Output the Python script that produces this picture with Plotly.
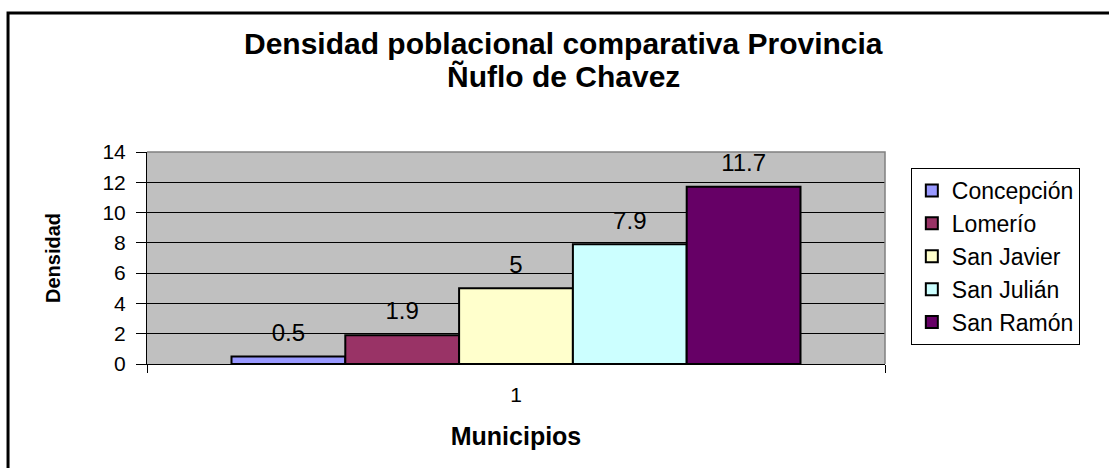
import plotly.graph_objects as go

# Population density by municipality, Ñuflo de Chavez province
municipios = ["Concepción", "Lomerío", "San Javier", "San Julián", "San Ramón"]
densidad = [0.5, 1.9, 5, 7.9, 11.7]
colores = ["#9999FF", "#993366", "#FFFFCC", "#CCFFFF", "#660066"]
categoria = [1]
y_ticks = [0, 2, 4, 6, 8, 10, 12, 14]
titulo = ["Densidad poblacional comparativa Provincia", "Ñuflo de Chavez"]

FONT = "Liberation Sans, Arial, sans-serif"
GAP = 0.229

fig = go.Figure()

for i, (nombre, valor, color) in enumerate(zip(municipios, densidad, colores)):
    fig.add_trace(go.Bar(
        x=[0], y=[valor], name=nombre, offsetgroup=str(i),
        marker=dict(color=color, line=dict(color="black", width=2)),
        hoverinfo="skip",
    ))

# value labels placed above each bar, sharing the bar's group offset
for i, valor in enumerate(densidad):
    fig.add_trace(go.Scatter(
        x=[0], y=[valor], mode="markers+text", offsetgroup=str(i),
        text=[f"{valor:g}"], textposition="top center",
        textfont=dict(family=FONT, size=24, color="black"),
        marker=dict(size=14, opacity=0),
        cliponaxis=False,
        showlegend=False, hoverinfo="skip",
    ))

fig.update_layout(
    width=1109, height=468,
    margin=dict(l=147, r=224, t=152, b=104),
    paper_bgcolor="white", plot_bgcolor="#C0C0C0",
    barmode="group", bargap=GAP, bargroupgap=0,
    scattermode="group", scattergap=GAP,
    font=dict(family=FONT, color="black"),
    legend=dict(
        x=1.035, y=0.9245, xanchor="left", yanchor="top",
        bordercolor="black", borderwidth=1, bgcolor="white",
        font=dict(family=FONT, size=23, color="black"),
        traceorder="normal",
    ),
    showlegend=True,
)

# two-line chart title
for linea, y in zip(titulo, [1.511, 1.356]):
    fig.add_annotation(
        text=f"<b>{linea}</b>", showarrow=False,
        xref="paper", yref="paper", x=0.565, y=y,
        xanchor="center", yanchor="middle",
        font=dict(family=FONT, size=30, color="black"),
    )

fig.update_xaxes(
    range=[-0.5, 0.5], tickvals=[0], ticktext=[str(c) for c in categoria],
    ticks="", showgrid=False, zeroline=False,
    showline=True, linecolor="black", linewidth=1,
    tickfont=dict(family=FONT, size=21, color="black"),
    ticklabelstandoff=12,
    minor=dict(tickvals=[-0.5, 0.5], ticks="outside", ticklen=8,
               tickcolor="black", showgrid=False),
    title=dict(text="<b>Municipios</b>",
               font=dict(family=FONT, size=25, color="black"), standoff=22),
)

fig.update_yaxes(
    range=[0, 14], tickvals=y_ticks,
    ticks="outside", ticklen=10, tickcolor="black",
    showgrid=True, gridcolor="black", gridwidth=1, zeroline=False,
    showline=True, linecolor="black", linewidth=1,
    tickfont=dict(family=FONT, size=21, color="black"),
    ticklabelstandoff=6,
    title=dict(text="<b>Densidad</b>",
               font=dict(family=FONT, size=20, color="black"), standoff=36),
)

fig.update_layout(shapes=[
    # grey border on the top and right of the plot area
    dict(type="path", xref="paper", yref="paper",
         path="M 0,1 L 1,1 L 1,0", line=dict(color="#808080", width=1.5),
         layer="above"),
    # outer chart frame
    dict(type="rect", xref="paper", yref="paper",
         x0=-0.1883, y0=-1.0, x1=1.6, y1=1.6557,
         line=dict(color="black", width=3), layer="above"),
])

fig.write_html("out.html")
